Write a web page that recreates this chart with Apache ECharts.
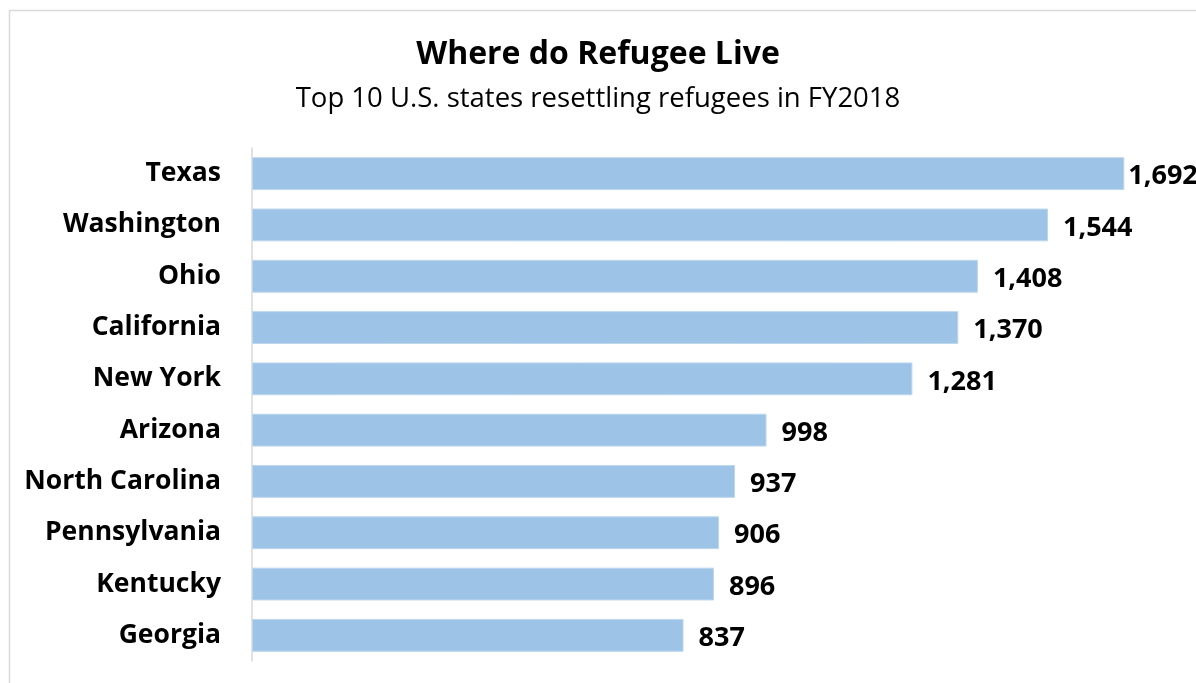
<!DOCTYPE html>
<html><head><meta charset="utf-8">
<script src="https://cdn.jsdelivr.net/npm/echarts@6/dist/echarts.min.js"></script>
<style>html,body{margin:0;padding:0;background:#fff}#c{width:1196px;height:683px}</style>
</head><body><div id="c"></div>
<script>
const categories = ["Texas","Washington","Ohio","California","New York","Arizona","North Carolina","Pennsylvania","Kentucky","Georgia"];
const values = [1692,1544,1408,1370,1281,998,937,906,896,837];
const titleText = "Where do Refugee Live";
const subtitleText = "Top 10 U.S. states resettling refugees in FY2018";
const FONT = "'Open Sans', sans-serif";
const chart = echarts.init(document.getElementById('c'));
chart.setOption({
  animation:false,
  graphic:[{type:'rect',shape:{x:9.5,y:10.5,width:1400,height:900},style:{fill:'none',stroke:'#d9d9d9',lineWidth:1.5},silent:true}],
  title:{text:titleText,subtext:subtitleText,left:'center',top:34,itemGap:14,
    textStyle:{fontFamily:FONT,fontSize:32,fontWeight:'bold',color:'#000'},
    subtextStyle:{fontFamily:FONT,fontSize:27.5,color:'#000'}},
  grid:{left:252,right:16,top:148,bottom:22,containLabel:false},
  xAxis:{type:'value',min:0,max:1800,show:false},
  yAxis:{type:'category',data:categories,inverse:true,
    axisLine:{show:true,lineStyle:{color:'#d9d9d9',width:1.5}},
    axisTick:{show:false},
    axisLabel:{fontFamily:FONT,fontSize:26.5,fontWeight:'bold',color:'#000',margin:31,padding:[6,0,0,0]}},
  series:[{type:'bar',data:values.map((v,i)=>i===0?{value:v,label:{distance:4}}:v),barCategoryGap:'36%',
    itemStyle:{color:'#9dc3e6',borderColor:'#bdd7ee',borderWidth:1},
    label:{show:true,position:'right',distance:15,offset:[0,3],fontFamily:FONT,fontSize:27,fontWeight:'bold',color:'#000',
      formatter:p=>p.value.toLocaleString('en-US')}}]
});
</script></body></html>
